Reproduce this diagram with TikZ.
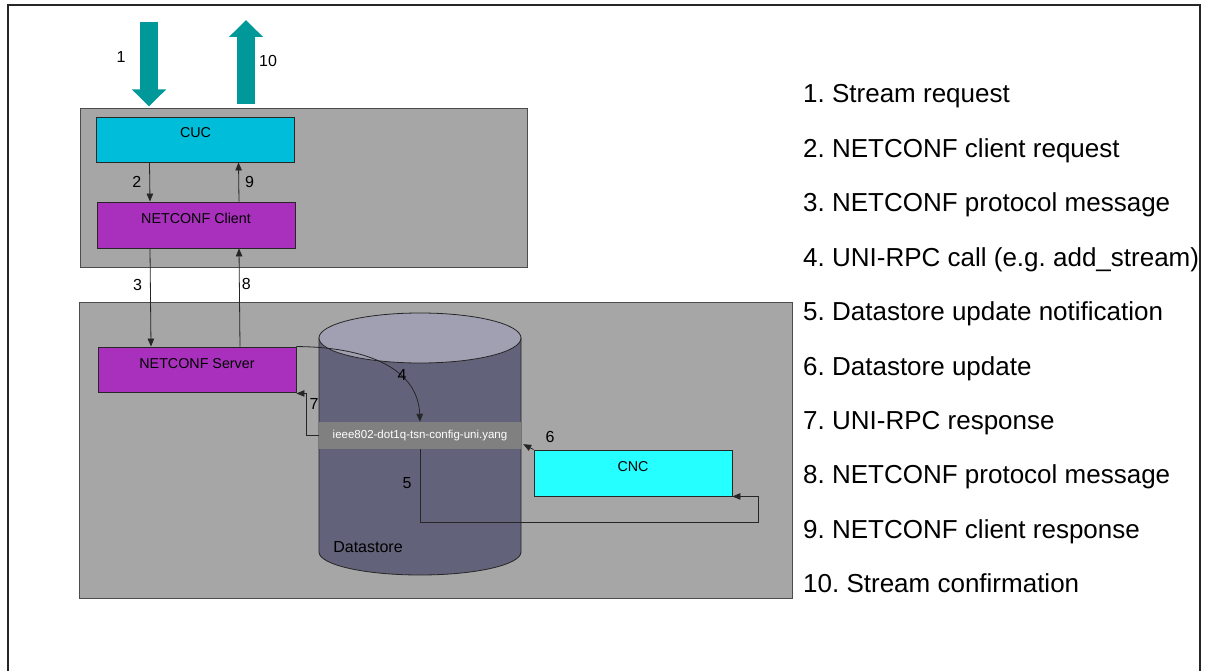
\documentclass[tikz,border=0pt]{standalone}
\usepackage{fontspec}
\setmainfont{Liberation Sans}
\usetikzlibrary{arrows.meta}
\frenchspacing

\definecolor{zonegrey}{RGB}{166,166,166}
\definecolor{streamteal}{RGB}{0,152,152}
\definecolor{cucblue}{RGB}{0,190,218}
\definecolor{ncpurple}{RGB}{168,48,188}
\definecolor{cncblue}{RGB}{38,255,255}
\definecolor{dsbody}{RGB}{98,98,122}
\definecolor{dstop}{RGB}{160,160,178}
\definecolor{yanggrey}{RGB}{128,128,128}

\tikzset{
  zone/.style={draw=black!70, fill=zonegrey, line width=1pt, inner sep=0pt},
  block/.style={draw=black!85, line width=0.9pt, minimum width=198pt, minimum height=45pt,
    inner sep=0pt, text height=10pt, text depth=13pt, font=\fontsize{14.3}{16}\selectfont},
  flow/.style={draw=black!85, line width=0.8pt, -{Triangle[length=8pt,width=6.5pt]}},
  bigarrow/.style={draw=streamteal, line width=18pt, -{Triangle[length=17pt,width=33pt]}},
  lbl/.style={font=\fontsize{16}{18}\selectfont, inner sep=2pt},
  legend/.style={anchor=base west, inner sep=0pt, font=\fontsize{26}{30}\selectfont}
}

\begin{document}
\begin{tikzpicture}[x=1pt, y=-1pt]
        \useasboundingbox (0,0) rectangle (1213,671);
        \draw[line width=1.5pt, black!85] (8,672) -- (8,5) -- (1200,5) -- (1200,672);

        % client and server sides
        \node[zone, minimum width=447pt, minimum height=158pt] (clientside) at (303.5,188) {};
        \node[zone, minimum width=713pt, minimum height=296pt] (serverside) at (435.5,450) {};

        % datastore
        \draw[draw=black!85, fill=dsbody, line width=0.8pt] (319,338) -- (319,552)
            arc[start angle=180, end angle=360, x radius=101pt, y radius=23pt] -- (521,338);
        \draw[draw=black!85, fill=dstop, line width=0.8pt] (420,338) ellipse[x radius=101pt, y radius=25pt];
        \node[lbl] (dslabel) at (368,547) {Datastore};
        \node[fill=yanggrey, text=white, minimum width=202pt, minimum height=27pt, inner sep=0pt,
            font=\fontsize{11.5}{13}\selectfont] (yang) at (420,435.5) {ieee802-dot1q-tsn-config-uni.yang};

        \node[block, fill=cucblue] (cuc) at (195.5,139.5) {CUC};
        \node[block, fill=ncpurple, minimum height=46pt] (client) at (196,225) {NETCONF Client};
        \node[block, fill=ncpurple] (server) at (197,369.5) {NETCONF Server};
        \node[block, fill=cncblue, minimum height=46pt] (cnc) at (633,473) {CNC};

        % stream request / confirmation
        \coordinate (in1) at (149,22);
        \coordinate (out10) at (246,20);
        \draw[bigarrow] (in1) -- ([yshift=2pt]in1 |- clientside.north);
        \draw[bigarrow] ([yshift=4pt]clientside.north -| out10) -- (out10);
        \node[lbl] (l1) at (121,57) {1};
        \node[lbl] (l10) at (268,61) {10};

        \draw[flow] ([xshift=-46pt]cuc.south) -- ([xshift=-46pt]client.north) node[lbl, midway, left=6pt] (l2) {2};
        \draw[flow] ([xshift=43pt]client.north) -- ([xshift=43pt]cuc.south) node[lbl, midway, right=4pt] (l9) {9};
        \draw[flow] ([xshift=-46pt]client.south) -- ([xshift=-46pt]server.north) node[lbl, pos=0.37, left=6pt] (l3) {3};
        \draw[flow] ([xshift=43pt]server.north) -- ([xshift=43pt]client.south) node[lbl, pos=0.64, right=0pt] (l8) {8};

        \draw[flow] (server.north east) .. controls (370,347) and (418,370) .. (yang.north);
        \node[lbl] (l4) at (402,375) {4};
        \draw[flow] (yang.west) -- ++(-12,0) |- ([yshift=-1pt]server.south east);
        \node[lbl] (l7) at (314,404) {7};
        \draw[flow] (cnc.north west) -- ([xshift=2pt,yshift=5pt]yang.south east);
        \node[lbl] (l6) at (550,437) {6};
        \coordinate (turn5) at (758,522);
        \draw[flow] (yang.south) |- (turn5) |- (cnc.south east);
        \node[lbl] (l5) at (407,483) {5};

        % legend
        \node[legend] (leg1) at (803,103) {1. Stream request};
        \node[legend] (leg2) at (803,157.4) {2. NETCONF client request};
        \node[legend] (leg3) at (803,211.8) {3. NETCONF protocol message};
        \node[legend] (leg4) at (803,266.2) {4. UNI-RPC call (e.g. add\_stream)};
        \node[legend] (leg5) at (803,320.6) {5. Datastore update notification};
        \node[legend] (leg6) at (803,375) {6. Datastore update};
        \node[legend] (leg7) at (803,429.4) {7. UNI-RPC response};
        \node[legend] (leg8) at (803,483.8) {8. NETCONF protocol message};
        \node[legend] (leg9) at (803,538.2) {9. NETCONF client response};
        \node[legend] (leg10) at (803,592.6) {10. Stream confirmation};
\end{tikzpicture}
\end{document}
